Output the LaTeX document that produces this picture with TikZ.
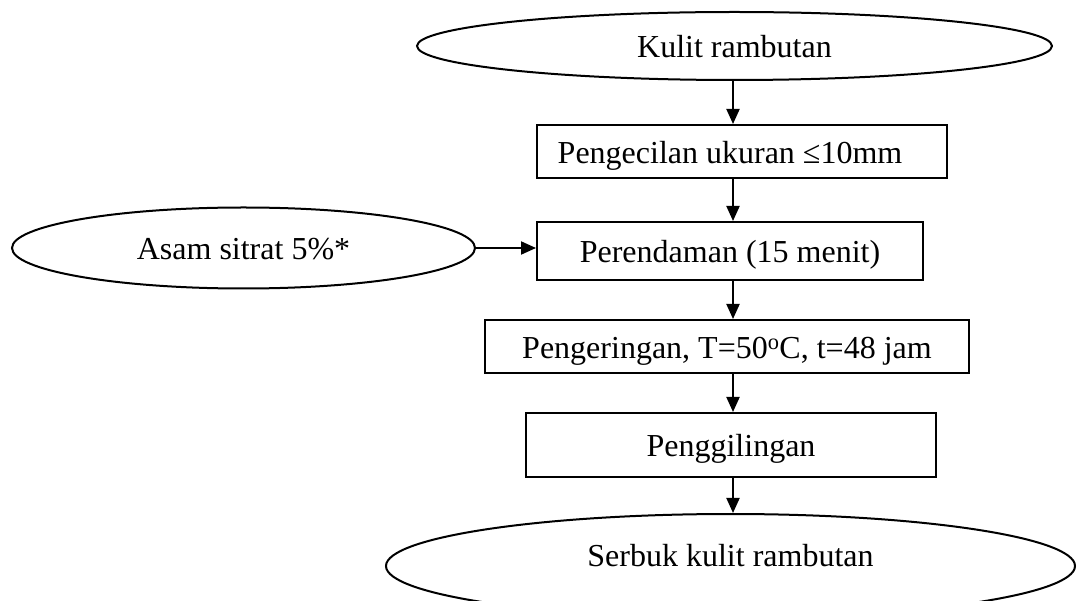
\documentclass[tikz,border=0pt]{standalone}
\usepackage{fontspec}
\setmainfont{Liberation Serif}
\usetikzlibrary{shapes.geometric,arrows.meta}
\begin{document}
\begin{tikzpicture}[x=1pt,y=-1pt,
  every node/.style={font=\fontsize{32}{38}\selectfont, inner sep=0pt, line width=2pt, text height=29pt, text depth=5pt},
  ovalbox/.style={draw, ellipse},
  stepbox/.style={draw, rectangle},
  arr/.style={line width=2pt, -{Triangle[length=15pt,width=13pt]}}]
\useasboundingbox (0,0) rectangle (1077,601);
\clip (0,0) rectangle (1077,601);
\coordinate (axis) at (733,0);
\node[ovalbox, minimum width=635pt, minimum height=68pt] (kulit) at (734.5,46) {Kulit rambutan};
\node[stepbox, minimum width=410pt, minimum height=53pt] (peng) at (742,151.5) {Pengecilan ukuran ≤10mm\rule{24pt}{0pt}};
\node[ovalbox, minimum width=463pt, minimum height=81pt] (asam) at (243.5,248) {Asam sitrat 5\%*};
\node[stepbox, minimum width=386pt, minimum height=58pt] (rend) at (730,251) {Perendaman (15 menit)};
\node[stepbox, minimum width=484pt, minimum height=53pt] (kering) at (727,346.5) {Pengeringan, T=50\textsuperscript{o}C, t=48 jam};
\node[stepbox, minimum width=410pt, minimum height=64pt] (giling) at (731,445) {Penggilingan};
\node[ovalbox, minimum width=689pt, minimum height=104pt, text height=17pt, text depth=17pt] (serbuk) at (730.5,566) {Serbuk kulit rambutan};
\draw[arr] (kulit.south -| axis) -- (peng.north -| axis);
\draw[arr] (peng.south -| axis) -- (rend.north -| axis);
\draw[arr] (asam.east) -- (asam.east -| rend.west);
\draw[arr] (rend.south -| axis) -- (kering.north -| axis);
\draw[arr] (kering.south -| axis) -- (giling.north -| axis);
\draw[arr] (giling.south -| axis) -- (serbuk.north -| axis);
\end{tikzpicture}
\end{document}
